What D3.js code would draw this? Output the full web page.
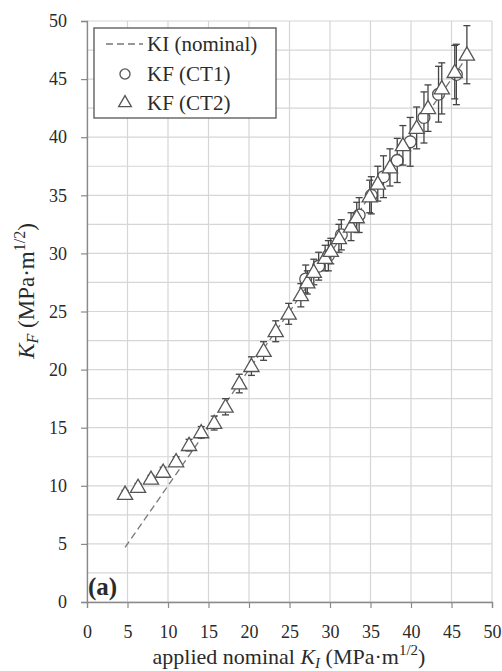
<!DOCTYPE html>
<html>
<head>
<meta charset="utf-8">
<script src="https://cdn.jsdelivr.net/npm/d3@7"></script>
<style>
  html, body { margin: 0; padding: 0; background: #fff; }
  svg { display: block; }
  svg text { font-family: "Liberation Serif", Tinos, "DejaVu Serif", serif !important; fill: #2a2a2a; }
</style>
</head>
<body>
<svg id="chart" width="502" height="671" font-family="Liberation Serif, serif"></svg>
<script>
// Measured fracture toughness K_F versus applied nominal K_I
// CT2 specimen (triangles): [K_I, K_F, error]
const ct2KI  = [4.7, 6.3, 7.9, 9.4, 11.0, 12.6, 14.1, 15.7, 17.1, 18.8, 20.3, 21.8, 23.3, 24.9, 26.4, 27.2, 28.0, 29.4, 30.1, 31.1, 32.6, 33.3, 34.9, 35.9, 37.4, 39.0, 40.7, 42.1, 43.8, 45.4, 46.9];
const ct2KF  = [9.3, 9.9, 10.6, 11.2, 12.1, 13.5, 14.6, 15.4, 16.8, 18.8, 20.3, 21.6, 23.3, 24.8, 26.4, 27.5, 28.4, 29.6, 30.2, 31.3, 32.3, 33.1, 34.9, 36.0, 37.4, 39.3, 40.8, 42.5, 44.2, 45.6, 47.1];
const ct2Err = [0.3, 0.3, 0.3, 0.4, 0.4, 0.5, 0.5, 0.6, 0.7, 0.8, 0.8, 0.8, 0.9, 0.9, 1.0, 1.0, 1.1, 1.1, 1.1, 1.2, 1.2, 1.3, 1.4, 1.5, 1.6, 1.7, 1.8, 2.0, 2.2, 2.3, 2.5];

// CT1 specimen (circles)
const ct1KI  = [27.0, 28.6, 29.8, 31.4, 33.6, 35.1, 36.6, 38.3, 39.9, 41.6, 43.4, 45.6];
const ct1KF  = [27.8, 28.9, 29.8, 31.6, 33.3, 35.0, 36.6, 38.0, 39.6, 41.7, 43.7, 45.4];
const ct1Err = [1.2, 1.2, 1.3, 1.3, 1.5, 1.6, 1.8, 1.9, 2.1, 2.2, 2.4, 2.6];

// Nominal line K_F = K_I
const nominalKI = [4.7, 47];

const xTicks = [0, 5, 10, 15, 20, 25, 30, 35, 40, 45, 50];
const yTicks = [0, 5, 10, 15, 20, 25, 30, 35, 40, 45, 50];
const yGrid  = d3.range(0, 50.01, 2.5);

const svg = d3.select("#chart");
const x = d3.scaleLinear().domain([0, 50]).range([87, 492]);
const y = d3.scaleLinear().domain([0, 50]).range([602, 21]);

// grid
const grid = svg.append("g").attr("stroke", "#d6d6d6").attr("stroke-width", 1.2);
grid.selectAll("line.v").data(xTicks).join("line")
  .attr("x1", d => x(d)).attr("x2", d => x(d))
  .attr("y1", y(0)).attr("y2", y(50));
grid.selectAll("line.h").data(yGrid).join("line")
  .attr("x1", x(0)).attr("x2", x(50))
  .attr("y1", d => y(d)).attr("y2", d => y(d));

// axes
const xAxis = svg.append("g").attr("transform", `translate(0,${y(0)})`)
  .call(d3.axisBottom(x).tickValues(xTicks).tickSize(6).tickPadding(17).tickFormat(d3.format("d")));
const yAxis = svg.append("g").attr("transform", `translate(${x(0)},0)`)
  .call(d3.axisLeft(y).tickValues(yTicks).tickSize(6).tickPadding(14).tickFormat(d3.format("d")));
[xAxis, yAxis].forEach(a => {
  a.attr("font-family", null);
  a.select(".domain").attr("stroke", "#8a8a8a").attr("stroke-width", 1.3);
  a.selectAll(".tick line").attr("stroke", "#8a8a8a").attr("stroke-width", 1.2);
  a.selectAll(".tick text").attr("font-size", 18).attr("fill", "#2a2a2a");
});

// nominal dashed line
svg.append("line")
  .attr("x1", x(nominalKI[0])).attr("y1", y(nominalKI[0]))
  .attr("x2", x(nominalKI[1])).attr("y2", y(nominalKI[1]))
  .attr("stroke", "#777").attr("stroke-width", 1.3).attr("stroke-dasharray", "7,4");

function drawSeries(kis, kfs, errs, shape) {
  const data = kis.map((k, i) => ({ kI: k, kF: kfs[i], e: errs[i] }));
  const g = svg.append("g");
  const eb = g.append("g").attr("stroke", "#444").attr("stroke-width", 1.3);
  data.forEach(d => {
    const cx = x(d.kI);
    eb.append("line").attr("x1", cx).attr("x2", cx).attr("y1", y(d.kF - d.e)).attr("y2", y(d.kF + d.e));
    [d.kF - d.e, d.kF + d.e].forEach(v =>
      eb.append("line").attr("x1", cx - 3.5).attr("x2", cx + 3.5).attr("y1", y(v)).attr("y2", y(v)));
  });
  const sym = d3.symbol().type(shape === "triangle" ? d3.symbolTriangle : d3.symbolCircle)
    .size(shape === "triangle" ? 100 : 110);
  g.selectAll("path.m").data(data).join("path")
    .attr("transform", d => `translate(${x(d.kI)},${y(d.kF) + (shape === "triangle" ? 1 : 0)})`)
    .attr("d", sym).attr("fill", "#fff").attr("stroke", "#555").attr("stroke-width", 1.3);
}
drawSeries(ct1KI, ct1KF, ct1Err, "circle");
drawSeries(ct2KI, ct2KF, ct2Err, "triangle");

// legend
const lg = svg.append("g");
lg.append("rect").attr("x", 94).attr("y", 28).attr("width", 182).attr("height", 90)
  .attr("fill", "#fff").attr("stroke", "#555").attr("stroke-width", 1.3);
lg.append("line").attr("x1", 106).attr("x2", 143).attr("y1", 44).attr("y2", 44)
  .attr("stroke", "#777").attr("stroke-width", 1.3).attr("stroke-dasharray", "7,4");
lg.append("path").attr("transform", "translate(125,74)")
  .attr("d", d3.symbol().type(d3.symbolCircle).size(80))
  .attr("fill", "#fff").attr("stroke", "#555").attr("stroke-width", 1.3);
lg.append("path").attr("transform", "translate(125,103)")
  .attr("d", d3.symbol().type(d3.symbolTriangle).size(70))
  .attr("fill", "#fff").attr("stroke", "#555").attr("stroke-width", 1.3);
const legendLabels = ["KI (nominal)", "KF (CT1)", "KF (CT2)"];
lg.selectAll("text").data(legendLabels).join("text")
  .attr("x", 147).attr("y", (d, i) => 51 + i * 29.5)
  .attr("font-size", 21).text(d => d);

// panel tag
svg.append("text").attr("x", 88).attr("y", 595).attr("font-size", 25)
  .attr("font-weight", "bold").text("(a)");

// x axis title
const xt = svg.append("text").attr("x", 289).attr("y", 664).attr("text-anchor", "middle")
  .attr("font-size", 22);
xt.append("tspan").text("applied nominal ");
xt.append("tspan").attr("font-style", "italic").text("K");
xt.append("tspan").attr("font-style", "italic").attr("font-size", 15).attr("dy", 4).text("I");
xt.append("tspan").attr("dy", -4).text(" (MPa·m");
xt.append("tspan").attr("font-size", 15).attr("dy", -9).text("1/2");
xt.append("tspan").attr("dy", 9).text(")");

// y axis title
const yt = svg.append("text").attr("transform", "translate(34,291) rotate(-90)")
  .attr("text-anchor", "middle").attr("font-size", 23);
yt.append("tspan").attr("font-style", "italic").text("K");
yt.append("tspan").attr("font-style", "italic").attr("font-size", 16).attr("dy", 4).text("F");
yt.append("tspan").attr("dy", -4).text(" (MPa·m");
yt.append("tspan").attr("font-size", 16).attr("dy", -9).text("1/2");
yt.append("tspan").attr("dy", 9).text(")");
</script>
</body>
</html>
